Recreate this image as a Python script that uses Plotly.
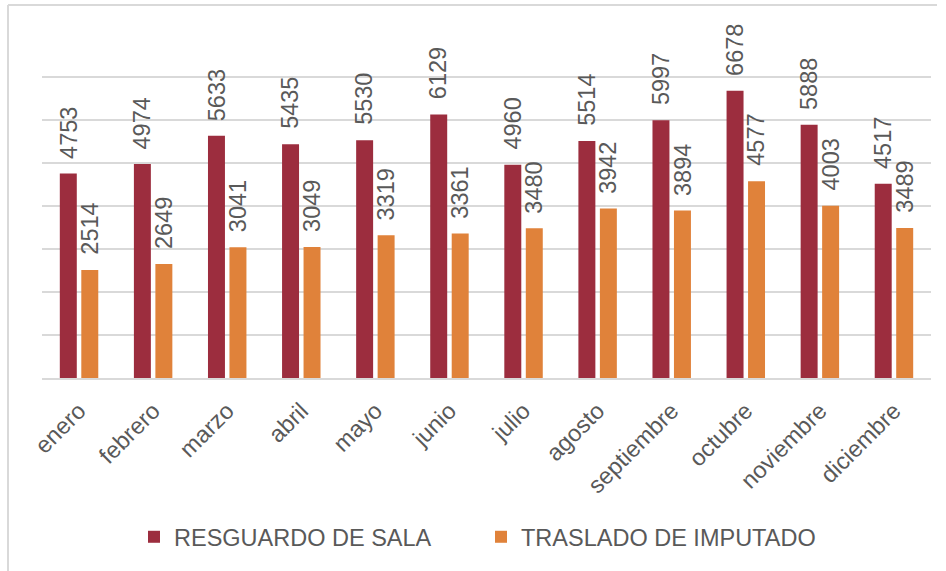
import plotly.graph_objects as go

meses = ["enero", "febrero", "marzo", "abril", "mayo", "junio", "julio",
         "agosto", "septiembre", "octubre", "noviembre", "diciembre"]
resguardo_sala = [4753, 4974, 5633, 5435, 5530, 6129, 4960, 5514, 5997, 6678, 5888, 4517]
traslado_imputado = [2514, 2649, 3041, 3049, 3319, 3361, 3480, 3942, 3894, 4577, 4003, 3489]

ROJO = "#9C2D3E"
NARANJA = "#E0823A"
GRIS_TEXTO = "#595959"
GRIS_LINEA = "#D9D9D9"
FUENTE = "Liberation Sans, Arial, sans-serif"
TAM = 23.5

BARGAP = 0.42
BARGROUPGAP = 0.21

fig = go.Figure()
fig.add_trace(go.Bar(x=meses, y=resguardo_sala, name="RESGUARDO DE SALA",
                     marker=dict(color=ROJO, line=dict(width=0))))
fig.add_trace(go.Bar(x=meses, y=traslado_imputado, name="TRASLADO DE IMPUTADO",
                     marker=dict(color=NARANJA, line=dict(width=0))))

# value labels, rotated, centred over each bar of the group
desplazamiento = (1 - BARGAP) / 4
anotaciones = []
for i, (a, b) in enumerate(zip(resguardo_sala, traslado_imputado)):
    for dx, v in ((-desplazamiento, a), (desplazamiento, b)):
        anotaciones.append(dict(
            x=i + dx, y=v, xref="x", yref="y", text=str(v), showarrow=False,
            textangle=-90, xanchor="center", yanchor="bottom", yshift=13,
            font=dict(family=FUENTE, size=TAM, color=GRIS_TEXTO)))

W, H = 946, 571
ML, MR, MT, MB = 42, 15, 34, 193
pw, ph = W - ML - MR, H - MT - MB


def px_x(p):
    return (p - ML) / pw


def px_y(p):
    return (H - MB - p) / ph


fig.update_layout(
    width=W, height=H,
    margin=dict(l=ML, r=MR, t=MT, b=MB),
    paper_bgcolor="white", plot_bgcolor="white",
    barmode="group", bargap=BARGAP, bargroupgap=BARGROUPGAP,
    font=dict(family=FUENTE, size=TAM, color=GRIS_TEXTO),
    annotations=anotaciones,
    showlegend=True,
    legend=dict(orientation="h", x=px_x(134), xanchor="left", y=px_y(537), yanchor="middle",
                font=dict(family=FUENTE, size=TAM, color=GRIS_TEXTO),
                entrywidth=302, entrywidthmode="pixels",
                itemsizing="constant", traceorder="normal"),
    shapes=[
        dict(type="line", xref="paper", yref="paper", x0=px_x(8), x1=px_x(937),
             y0=px_y(5), y1=px_y(5), line=dict(color=GRIS_LINEA, width=2)),
        dict(type="line", xref="paper", yref="paper", x0=px_x(8), x1=px_x(8),
             y0=px_y(5), y1=px_y(575), line=dict(color=GRIS_LINEA, width=2)),
    ],
)
fig.update_xaxes(tickangle=-45, showgrid=False, showline=True, linecolor=GRIS_LINEA,
                 linewidth=1.5, ticks="", tickfont=dict(family=FUENTE, size=TAM, color=GRIS_TEXTO),
                 ticklabelstandoff=8)
fig.update_yaxes(range=[0, 8000], dtick=1000, showticklabels=False, showgrid=True,
                 gridcolor=GRIS_LINEA, gridwidth=1.5, zeroline=False, showline=False)

fig.write_html("out.html")
